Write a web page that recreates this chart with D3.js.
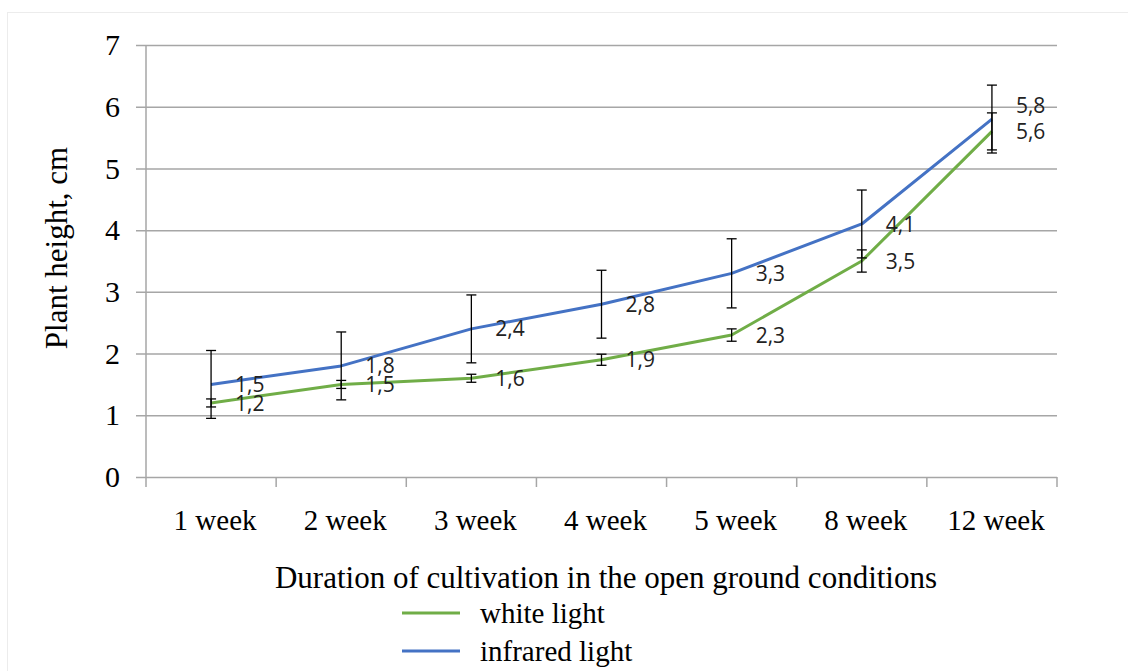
<!DOCTYPE html>
<html>
<head>
<meta charset="utf-8">
<script src="https://cdn.jsdelivr.net/npm/d3@7"></script>
<style>
  html, body { margin: 0; padding: 0; background: #fff; }
  svg { display: block; }
</style>
</head>
<body>
<svg id="chart" width="1128" height="671"></svg>
<script>
const categories = ["1 week", "2 week", "3 week", "4 week", "5 week", "8 week", "12 week"];
const whiteLight = [1.2, 1.5, 1.6, 1.9, 2.3, 3.5, 5.6];
const whiteErr = [0.065, 0.065, 0.065, 0.09, 0.1, 0.18, 0.3];
const infraredLight = [1.5, 1.8, 2.4, 2.8, 3.3, 4.1, 5.8];
const infraredErr = [0.55, 0.55, 0.55, 0.55, 0.56, 0.55, 0.55];
const yTicks = [0, 1, 2, 3, 4, 5, 6, 7];
const seriesNames = ["white light", "infrared light"];
const xTitle = "Duration of cultivation in the open ground conditions";
const yTitle = "Plant height, cm";

const svg = d3.select("#chart");
const margin = { left: 146, right: 1057, top: 45, bottom: 477 };

// faint frame
svg.append("rect").attr("x", 7.5).attr("y", 12.5).attr("width", 1140).attr("height", 700)
  .attr("fill", "none").attr("stroke", "#ececec").attr("stroke-width", 1);

const x = d3.scaleBand().domain(categories).range([margin.left, margin.right]).padding(0);
const y = d3.scaleLinear().domain([0, 7]).range([margin.bottom, margin.top]);
const cx = c => x(c) + x.bandwidth() / 2;

const serif = "'Liberation Serif', 'Times New Roman', serif";

// gridlines + y axis ticks
const yAxis = d3.axisLeft(y).tickValues(yTicks).tickSize(-(margin.right - margin.left) - 10).tickFormat(d3.format("d")).tickPadding(14);
const gy = svg.append("g").attr("transform", `translate(${margin.left - 10},0)`).call(yAxis);
gy.select(".domain").remove();
gy.selectAll(".tick line").attr("stroke", "#a6a6a6").attr("stroke-width", 1.5).attr("x1", 0).attr("x2", margin.right - margin.left + 10);
gy.selectAll(".tick text").attr("font-family", serif).attr("font-size", 30).attr("fill", "#000").attr("x", -16);

// vertical axis line
svg.append("line").attr("x1", margin.left).attr("x2", margin.left)
  .attr("y1", margin.top).attr("y2", margin.bottom + 10)
  .attr("stroke", "#a6a6a6").attr("stroke-width", 1.5);

// x axis: ticks at band boundaries
const boundaries = categories.map(c => x(c) + x.bandwidth());
svg.append("g").selectAll("line").data(boundaries).join("line")
  .attr("x1", d => d).attr("x2", d => d)
  .attr("y1", margin.bottom).attr("y2", margin.bottom + 10)
  .attr("stroke", "#a6a6a6").attr("stroke-width", 1.5);

svg.append("g").selectAll("text").data(categories).join("text")
  .attr("x", d => cx(d) + 4).attr("y", 530)
  .attr("text-anchor", "middle")
  .attr("font-family", serif).attr("font-size", 29)
  .text(d => d);

// axis titles
svg.append("text").attr("x", 606).attr("y", 588).attr("text-anchor", "middle")
  .attr("font-family", serif).attr("font-size", 31).text(xTitle);
svg.append("text").attr("transform", "translate(67,248) rotate(-90)").attr("text-anchor", "middle")
  .attr("font-family", serif).attr("font-size", 31).text(yTitle);

// lines
const colors = ["#70ad47", "#4472c4"];
const seriesVals = [whiteLight, infraredLight];
const seriesErr = [whiteErr, infraredErr];
const line = d3.line().x((d, i) => cx(categories[i])).y(d => y(d));

seriesVals.forEach((vals, s) => {
  svg.append("path").datum(vals).attr("d", line)
    .attr("fill", "none").attr("stroke", colors[s]).attr("stroke-width", 3).attr("stroke-linejoin", "round");
});

// error bars
seriesVals.forEach((vals, s) => {
  const g = svg.append("g").attr("stroke", "#000").attr("stroke-width", 1.3);
  vals.forEach((v, i) => {
    const xc = cx(categories[i]);
    const e = seriesErr[s][i];
    g.append("line").attr("x1", xc).attr("x2", xc).attr("y1", y(v + e)).attr("y2", y(v - e));
    [v + e, v - e].forEach(t => {
      g.append("line").attr("x1", xc - 5).attr("x2", xc + 5).attr("y1", y(t)).attr("y2", y(t));
    });
  });
});

// data labels
const fmt = v => d3.format(".1f")(v).replace(".", ",");
categories.forEach((c, i) => {
  let yw = y(whiteLight[i]);
  let yi = y(infraredLight[i]);
  if (Math.abs(yw - yi) < 16) { yi = yw - 26; }
  [[whiteLight[i], yw], [infraredLight[i], yi]].forEach(([v, yy]) => {
    svg.append("text").attr("x", cx(c) + 24).attr("y", yy).attr("dy", "0.36em")
      .attr("font-family", "'Open Sans', Lato, sans-serif").attr("font-size", 21).attr("fill", "#222")
      .text(fmt(v));
  });
});

// legend
const legend = svg.append("g");
seriesNames.forEach((name, s) => {
  const ly = 613 + s * 38;
  legend.append("line").attr("x1", 402).attr("x2", 460).attr("y1", ly).attr("y2", ly)
    .attr("stroke", colors[s]).attr("stroke-width", 3);
  legend.append("text").attr("x", 480).attr("y", ly).attr("dy", "0.33em")
    .attr("font-family", serif).attr("font-size", 29).text(name);
});
</script>
</body>
</html>
